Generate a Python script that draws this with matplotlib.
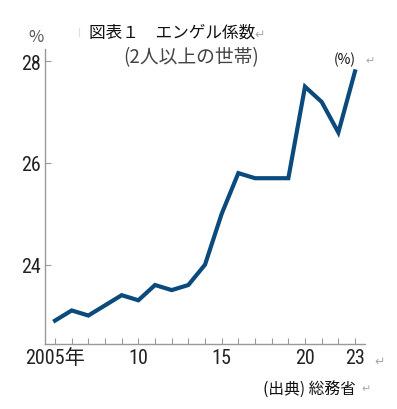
import matplotlib.pyplot as plt
from matplotlib import font_manager

plt.rcParams['font.family'] = ['Noto Sans CJK JP', 'DejaVu Sans']

years = list(range(2005, 2024))
engel = [22.9, 23.1, 23.0, 23.2, 23.4, 23.3, 23.6, 23.5, 23.6, 24.0,
         25.0, 25.8, 25.7, 25.7, 25.7, 27.5, 27.2, 26.6, 27.8]
yticks = [24, 26, 28]
xticks = [2005, 2010, 2015, 2020, 2023]
xlabels = ['2005年', '10', '15', '20', '23']

# condensed face for the numbers, whichever is installed
names = {f.name for f in font_manager.fontManager.ttflist}
cands = ['Roboto Condensed', 'Liberation Sans Narrow', 'Open Sans Condensed', 'DejaVu Sans Condensed']
num_font = [n for n in cands if n in names][:1] + ['Noto Sans CJK JP']
narrow = len(num_font) > 1
num_size = 14.5 if narrow else 13

fig = plt.figure(figsize=(3.97, 4.10), dpi=100)
ax = fig.add_axes([0.1134, 0.1585, 0.806, 0.7195])

ax.plot(years, engel, color='#0b4a7c', lw=3.0, solid_joinstyle='miter')

ax.set_xlim(2004.4, 2023.6)
ax.set_ylim(22.44, 28.24)
ax.set_yticks(yticks)
ax.set_yticklabels([str(t) for t in yticks], family=num_font, fontsize=num_size, color='#222222')
ax.set_xticks(years, minor=True)
ax.set_xticks(xticks)
ax.set_xticklabels(xlabels, family=num_font, fontsize=num_size, color='#222222')
ax.tick_params(axis='y', direction='in', length=4, width=0.8, color='#999999', pad=3)
ax.tick_params(axis='x', which='both', direction='in', length=4, width=0.8, color='#999999', pad=3)

for s in ['top', 'right']:
    ax.spines[s].set_visible(False)
for s in ['left', 'bottom']:
    ax.spines[s].set_color('#999999')
    ax.spines[s].set_linewidth(1.0)

fig.text(89 / 397, 1 - 33 / 410, '図表１　エンゲル係数', fontsize=12, va='center', ha='left', color='#111111')
fig.text(254 / 397, 1 - 35 / 410, '↵', fontsize=9, va='center', ha='left', color='#aaaaaa', family='DejaVu Sans')
fig.text(191 / 397, 1 - 58 / 410, '(2人以上の世帯)', fontsize=13.5, va='center', ha='center', color='#444444')
fig.text(36 / 397, 1 - 37 / 410, '%', fontsize=12, va='center', ha='center', color='#555555')
fig.text(345 / 397, 1 - 60 / 410, '(%)', fontsize=10, va='center', ha='center', color='#111111')
fig.text(370 / 397, 1 - 61 / 410, '↵', fontsize=8, va='center', ha='center', color='#aaaaaa', family='DejaVu Sans')
fig.text(380 / 397, 1 - 362 / 410, '↵', fontsize=9, va='center', ha='center', color='#aaaaaa', family='DejaVu Sans')
fig.text(263 / 397, 1 - 389 / 410, '(出典) 総務省', fontsize=11.3, va='center', ha='left', color='#111111')
fig.text(366 / 397, 1 - 389 / 410, '↵', fontsize=8, va='center', ha='center', color='#aaaaaa', family='DejaVu Sans')
fig.add_artist(plt.Line2D([79 / 397, 79 / 397], [1 - 29 / 410, 1 - 37 / 410], color='#dddddd', lw=0.8))

fig.savefig('out.png', dpi=100)
